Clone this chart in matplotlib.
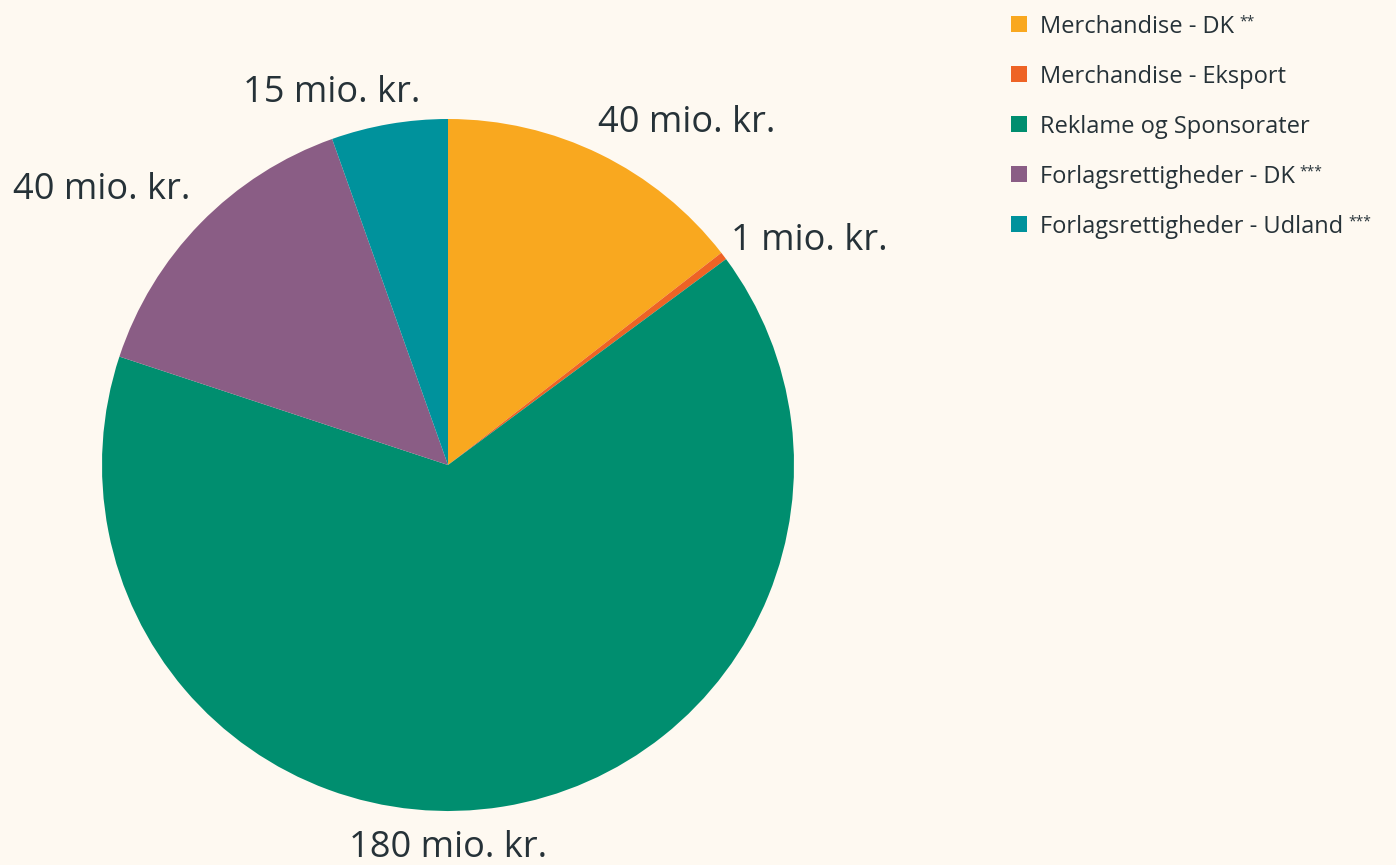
import numpy as np
import matplotlib.pyplot as plt
from matplotlib.patches import Rectangle

plt.rcParams['font.family'] = ['Open Sans', 'DejaVu Sans']

# data (mio. kr.)
kategorier = ["Merchandise - DK", "Merchandise - Eksport", "Reklame og Sponsorater",
              "Forlagsrettigheder - DK", "Forlagsrettigheder - Udland"]
noter = ["**", "", "", "***", "***"]
vaerdier = [40, 1, 180, 40, 15]
farver = ["#F9A81F", "#EE6325", "#008E6F", "#8A5D85", "#00929C"]

# label anchors (data units) and alignment, per slice
label_pos = [(0.434, 0.988, "left"), (0.818, 0.647, "left"), (0.0, -1.108, "center"),
             (-0.746, 0.795, "right"), (-0.081, 1.075, "right")]

bg = "#FEF9F1"
tekst = "#263238"
W, H = 1396, 865

fig = plt.figure(figsize=(13.96, 8.65), dpi=100, facecolor=bg)
ax = fig.add_axes([102 / W, 54 / H, 692 / W, 692 / H])
ax.set_facecolor(bg)

wedges, _ = ax.pie(vaerdier, colors=farver, startangle=90, counterclock=False,
                   radius=1, wedgeprops=dict(linewidth=0))
ax.set_xlim(-1, 1)
ax.set_ylim(-1, 1)
ax.set_aspect("equal")
ax.axis("off")

for v, (x, y, ha) in zip(vaerdier, label_pos):
    ax.text(x, y, f"{v} mio. kr.", ha=ha, va="center", fontsize=26, color=tekst,
            clip_on=False)

# legend, drawn by hand so the superscript notes sit right
renderer = fig.canvas.get_renderer()
for i, (k, n, c) in enumerate(zip(kategorier, noter, farver)):
    yc = 1 - (24 + 50 * i) / H
    fig.add_artist(Rectangle((1011 / W, yc - 8 / H), 16 / W, 16 / H,
                             transform=fig.transFigure, color=c, lw=0))
    t = fig.text(1040 / W, yc - 9 / H, k, fontsize=17, color=tekst, va="baseline", ha="left")
    if n:
        bb = t.get_window_extent(renderer)
        fig.text((bb.x1 + 5) / W, yc + 10 / H, n, fontsize=10, color=tekst,
                 va="top", ha="left")

fig.savefig("out.png", dpi=100, facecolor=bg)
